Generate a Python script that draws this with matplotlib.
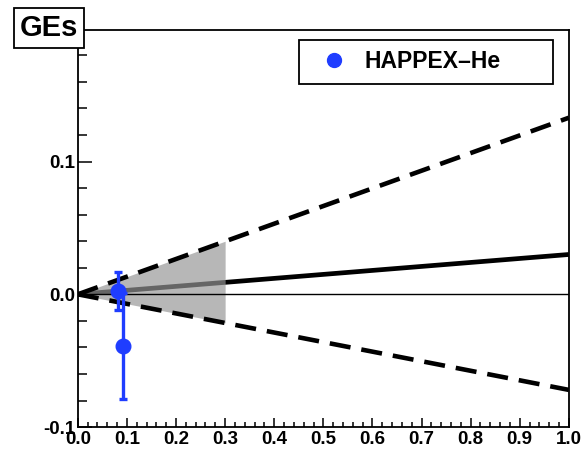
import matplotlib
matplotlib.use("Agg")
import matplotlib.pyplot as plt
from matplotlib.lines import Line2D
from matplotlib.ticker import MultipleLocator

plt.rcParams['font.family'] = ['Liberation Sans', 'DejaVu Sans']
plt.rcParams['font.weight'] = 'bold'

# HAPPEX-He measurements
happex_x = [0.081, 0.092]
happex_y = [0.0025, -0.039]
happex_err = [0.0145, 0.040]

# theory band: edges and central curve
band_x = [0.0, 1.0]
band_upper = [0.0, 0.133]
band_central = [0.0, 0.030]
band_lower = [0.0, -0.072]

# shaded region at low Q2
shade_x = [0.0, 0.3]
shade_upper = [0.0, 0.040]
shade_lower = [0.0, -0.0215]

blue = '#1f3dff'

fig = plt.figure(figsize=(5.81, 4.5), dpi=100)
ax = fig.add_axes([0.134, 0.051, 0.845, 0.882])

ax.plot(band_x, band_central, color='black', lw=3.4, solid_capstyle='butt', zorder=2)
ax.fill_between(shade_x, shade_lower, shade_upper, color='0.59', alpha=0.68,
                lw=0, zorder=3)
ax.axhline(0.0, color='black', lw=1.0, zorder=4)
for edge in (band_upper, band_lower):
    ax.plot(band_x, edge, color='black', lw=3.3, ls=(0, (4.6, 2.4)), zorder=4)

ax.errorbar(happex_x, happex_y, yerr=happex_err, fmt='o', color=blue, ms=10.5,
            elinewidth=2.4, capsize=3, capthick=2.4, zorder=6)

ax.set_xlim(0.0, 1.0)
ax.set_ylim(-0.1, 0.199)
ax.xaxis.set_major_locator(MultipleLocator(0.1))
ax.xaxis.set_minor_locator(MultipleLocator(0.02))
ax.yaxis.set_major_locator(MultipleLocator(0.1))
ax.yaxis.set_minor_locator(MultipleLocator(0.02))
ax.xaxis.set_major_formatter(matplotlib.ticker.FormatStrFormatter('%.1f'))
ax.yaxis.set_major_formatter(matplotlib.ticker.FormatStrFormatter('%.1f'))
ax.tick_params(axis='x', which='major', direction='in', length=6.5, width=1.1,
               labelsize=13.5, pad=3)
ax.tick_params(axis='x', which='minor', direction='in', length=3.3, width=1.1)
ax.tick_params(axis='y', which='major', direction='in', length=10, width=1.1,
               labelsize=13.5, pad=2)
ax.tick_params(axis='y', which='minor', direction='in', length=6.5, width=1.1)
for label in ax.get_xticklabels() + ax.get_yticklabels():
    label.set_fontweight('bold')
for spine in ax.spines.values():
    spine.set_linewidth(1.3)

handle = Line2D([], [], marker='o', ls='none', color=blue, ms=10)
leg = ax.legend([handle], ['HAPPEX\u2013He'], loc='upper left',
                bbox_to_anchor=(0.45, 0.854, 0.517, 0.121), mode='expand',
                borderaxespad=0, fancybox=False, framealpha=1, edgecolor='black',
                prop={'size': 16.5, 'weight': 'bold'}, handlelength=2.2,
                handletextpad=0.2, borderpad=0.45, numpoints=1)
leg.get_frame().set_linewidth(1.3)

fig.text(49 / 581, 1 - 28 / 450, 'GEs', ha='center', va='center', fontsize=21,
         fontweight='bold', zorder=10,
         bbox=dict(boxstyle='square,pad=0.2', facecolor='white',
                   edgecolor='black', lw=1.3))

fig.savefig('out.png', dpi=100)
